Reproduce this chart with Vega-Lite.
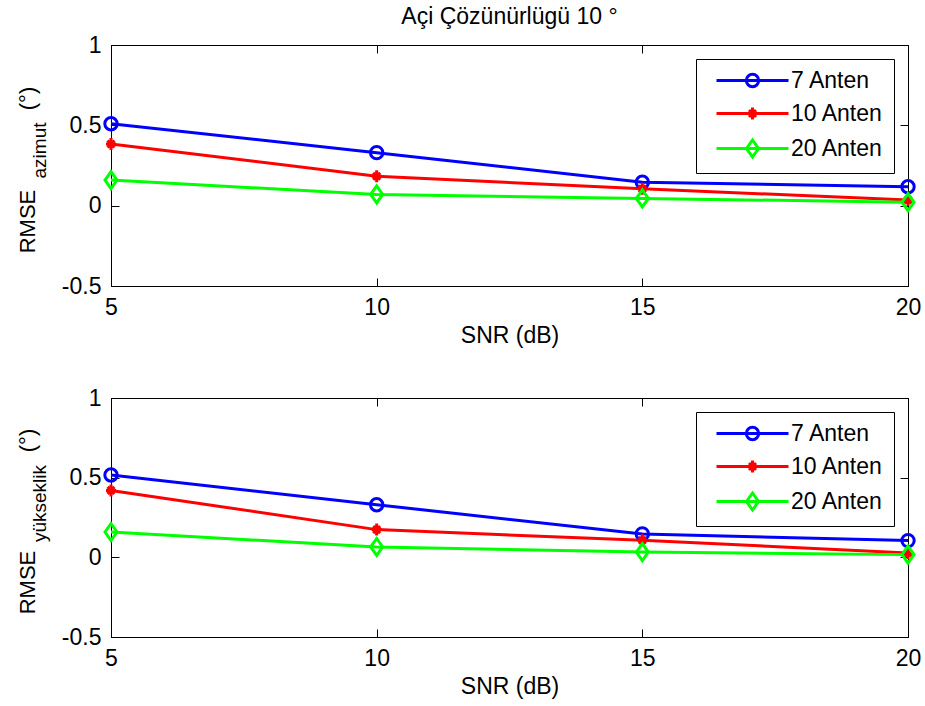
{
  "$schema": "https://vega.github.io/schema/vega-lite/v6.json",
  "background": "white",
  "padding": {"left": 15, "top": 5, "right": 10, "bottom": 5},
  "title": {"text": "Açi Çözünürlügü 10 °", "fontSize": 23, "font": "Liberation Sans", "fontWeight": "normal", "color": "black", "anchor": "middle", "frame": "group", "offset": 5},
  "datasets": {
    "az": [
      {"anten": "7 Anten", "snr": 5, "rmse": 0.51},
      {"anten": "7 Anten", "snr": 10, "rmse": 0.33},
      {"anten": "7 Anten", "snr": 15, "rmse": 0.146},
      {"anten": "7 Anten", "snr": 20, "rmse": 0.118},
      {"anten": "10 Anten", "snr": 5, "rmse": 0.384},
      {"anten": "10 Anten", "snr": 10, "rmse": 0.183},
      {"anten": "10 Anten", "snr": 15, "rmse": 0.105},
      {"anten": "10 Anten", "snr": 20, "rmse": 0.035},
      {"anten": "20 Anten", "snr": 5, "rmse": 0.159},
      {"anten": "20 Anten", "snr": 10, "rmse": 0.07},
      {"anten": "20 Anten", "snr": 15, "rmse": 0.045},
      {"anten": "20 Anten", "snr": 20, "rmse": 0.022}
    ],
    "yk": [
      {"anten": "7 Anten", "snr": 5, "rmse": 0.517},
      {"anten": "7 Anten", "snr": 10, "rmse": 0.33},
      {"anten": "7 Anten", "snr": 15, "rmse": 0.147},
      {"anten": "7 Anten", "snr": 20, "rmse": 0.105},
      {"anten": "10 Anten", "snr": 5, "rmse": 0.42},
      {"anten": "10 Anten", "snr": 10, "rmse": 0.174},
      {"anten": "10 Anten", "snr": 15, "rmse": 0.107},
      {"anten": "10 Anten", "snr": 20, "rmse": 0.027},
      {"anten": "20 Anten", "snr": 5, "rmse": 0.159},
      {"anten": "20 Anten", "snr": 10, "rmse": 0.065},
      {"anten": "20 Anten", "snr": 15, "rmse": 0.033},
      {"anten": "20 Anten", "snr": 20, "rmse": 0.017}
    ]
  },
  "spacing": 38,
  "resolve": {"scale": {"color": "independent", "shape": "independent"}, "legend": {"color": "independent", "shape": "independent"}},
  "vconcat": [
    {
      "width": 797,
      "height": 241,
      "data": {"name": "az"},
      "layer": [
        {
          "mark": {"type": "line", "strokeWidth": 3},
          "encoding": {
            "x": {"field": "snr", "type": "quantitative", "scale": {"domain": [5, 20], "nice": false, "zero": false}, "axis": {"orient": "bottom", "values": [5, 10, 15, 20], "title": "SNR (dB)", "labelPadding": 18, "titlePadding": 5}},
            "y": {"field": "rmse", "type": "quantitative", "scale": {"domain": [-0.5, 1], "nice": false, "zero": false}, "axis": {"orient": "left", "values": [-0.5, 0, 0.5, 1], "labelExpr": "toString(datum.value)", "title": "RMSE", "titleFontSize": 22, "labelPadding": 18, "titleX": -77, "titleY": 176, "titleAngle": 270, "titleAlign": "center", "titleBaseline": "alphabetic"}},
            "color": {"field": "anten", "type": "nominal", "scale": {"domain": ["7 Anten", "10 Anten", "20 Anten"], "range": ["#0000ff", "#ff0000", "#00ff00"]}, "legend": null}
          }
        },
        {
          "mark": {"type": "point", "filled": false, "strokeWidth": 3, "size": 100, "opacity": 1},
          "encoding": {
            "x": {"field": "snr", "type": "quantitative", "scale": {"domain": [5, 20], "nice": false, "zero": false}, "axis": null},
            "y": {"field": "rmse", "type": "quantitative", "scale": {"domain": [-0.5, 1], "nice": false, "zero": false}, "axis": null},
            "color": {"field": "anten", "type": "nominal", "scale": {"domain": ["7 Anten", "10 Anten", "20 Anten"], "range": ["#0000ff", "#ff0000", "#00ff00"]}, "legend": null},
            "shape": {"field": "anten", "type": "nominal", "scale": {"domain": ["7 Anten", "10 Anten", "20 Anten"], "range": ["M1.24,0A1.24,1.24 0 1,1 -1.24,0A1.24,1.24 0 1,1 1.24,0", "M0,-1.2V1.2M-1,0H1M-0.7,-0.7L0.7,0.7M-0.7,0.7L0.7,-0.7", "M-1.2,0L0,-1.7L1.2,0L0,1.7Z"]}, "legend": null}
          }
        },
        {
          "mark": {"type": "point", "filled": false, "strokeWidth": 3, "size": 100, "opacity": 0},
          "encoding": {
            "x": {"field": "snr", "type": "quantitative", "scale": {"domain": [5, 20], "nice": false, "zero": false}, "axis": {"orient": "top", "values": [5, 10, 15, 20], "labels": false, "domain": false, "title": "azimut", "titleFontSize": 19, "titleX": -66, "titleY": 105, "titleAngle": 270, "titleAlign": "center", "titleBaseline": "alphabetic"}},
            "y": {"field": "rmse", "type": "quantitative", "scale": {"domain": [-0.5, 1], "nice": false, "zero": false}, "axis": {"orient": "right", "values": [-0.5, 0, 0.5, 1], "labels": false, "domain": false, "title": "(°)", "titleFontSize": 22, "titleX": -874, "titleY": 53, "titleAngle": 270, "titleAlign": "center", "titleBaseline": "alphabetic"}},
            "color": {"field": "anten", "type": "nominal", "scale": {"domain": ["7 Anten", "10 Anten", "20 Anten"], "range": ["#0000ff", "#ff0000", "#00ff00"]},
              "legend": {"title": null, "orient": "none", "legendX": 585, "legendY": 14, "padding": 10, "strokeColor": "black", "fillColor": "white", "symbolSize": 100, "symbolOffset": 4, "symbolStrokeWidth": 3, "symbolOpacity": 1, "labelOffset": 58, "rowPadding": 8, "encode": {"symbols": {"update": {"opacity": {"value": 1}, "fill": {"value": "transparent"}}}}}},
            "shape": {"field": "anten", "type": "nominal", "scale": {"domain": ["7 Anten", "10 Anten", "20 Anten"], "range": ["M-1,0H13.4M7.44,0A1.24,1.24 0 1,1 4.96,0A1.24,1.24 0 1,1 7.44,0", "M-1,0H13.4M6.2,-1.2V1.2M5.2,0H7.2M5.5,-0.7L6.9,0.7M5.5,0.7L6.9,-0.7", "M-1,0H13.4M5,0L6.2,-1.7L7.4,0L6.2,1.7Z"]},
              "legend": {"title": null, "orient": "none", "legendX": 585, "legendY": 14, "padding": 10, "strokeColor": "black", "fillColor": "white", "symbolSize": 100, "symbolOffset": 4, "symbolStrokeWidth": 3, "symbolOpacity": 1, "labelOffset": 58, "rowPadding": 8, "encode": {"symbols": {"update": {"opacity": {"value": 1}, "fill": {"value": "transparent"}}}}}}
          }
        }
      ],
      "resolve": {"scale": {"color": "independent", "shape": "independent"}, "axis": {"x": "independent", "y": "independent"}}
    },
    {
      "width": 797,
      "height": 239,
      "data": {"name": "yk"},
      "layer": [
        {
          "mark": {"type": "line", "strokeWidth": 3},
          "encoding": {
            "x": {"field": "snr", "type": "quantitative", "scale": {"domain": [5, 20], "nice": false, "zero": false}, "axis": {"orient": "bottom", "values": [5, 10, 15, 20], "title": "SNR (dB)", "labelPadding": 18, "titlePadding": 5}},
            "y": {"field": "rmse", "type": "quantitative", "scale": {"domain": [-0.5, 1], "nice": false, "zero": false}, "axis": {"orient": "left", "values": [-0.5, 0, 0.5, 1], "labelExpr": "toString(datum.value)", "title": "RMSE", "titleFontSize": 22, "labelPadding": 18, "titleX": -77, "titleY": 184, "titleAngle": 270, "titleAlign": "center", "titleBaseline": "alphabetic"}},
            "color": {"field": "anten", "type": "nominal", "scale": {"domain": ["7 Anten", "10 Anten", "20 Anten"], "range": ["#0000ff", "#ff0000", "#00ff00"]}, "legend": null}
          }
        },
        {
          "mark": {"type": "point", "filled": false, "strokeWidth": 3, "size": 100, "opacity": 1},
          "encoding": {
            "x": {"field": "snr", "type": "quantitative", "scale": {"domain": [5, 20], "nice": false, "zero": false}, "axis": null},
            "y": {"field": "rmse", "type": "quantitative", "scale": {"domain": [-0.5, 1], "nice": false, "zero": false}, "axis": null},
            "color": {"field": "anten", "type": "nominal", "scale": {"domain": ["7 Anten", "10 Anten", "20 Anten"], "range": ["#0000ff", "#ff0000", "#00ff00"]}, "legend": null},
            "shape": {"field": "anten", "type": "nominal", "scale": {"domain": ["7 Anten", "10 Anten", "20 Anten"], "range": ["M1.24,0A1.24,1.24 0 1,1 -1.24,0A1.24,1.24 0 1,1 1.24,0", "M0,-1.2V1.2M-1,0H1M-0.7,-0.7L0.7,0.7M-0.7,0.7L0.7,-0.7", "M-1.2,0L0,-1.7L1.2,0L0,1.7Z"]}, "legend": null}
          }
        },
        {
          "mark": {"type": "point", "filled": false, "strokeWidth": 3, "size": 100, "opacity": 0},
          "encoding": {
            "x": {"field": "snr", "type": "quantitative", "scale": {"domain": [5, 20], "nice": false, "zero": false}, "axis": {"orient": "top", "values": [5, 10, 15, 20], "labels": false, "domain": false, "title": "yükseklik", "titleFontSize": 19, "titleX": -66, "titleY": 105, "titleAngle": 270, "titleAlign": "center", "titleBaseline": "alphabetic"}},
            "y": {"field": "rmse", "type": "quantitative", "scale": {"domain": [-0.5, 1], "nice": false, "zero": false}, "axis": {"orient": "right", "values": [-0.5, 0, 0.5, 1], "labels": false, "domain": false, "title": "(°)", "titleFontSize": 22, "titleX": -874, "titleY": 42, "titleAngle": 270, "titleAlign": "center", "titleBaseline": "alphabetic"}},
            "color": {"field": "anten", "type": "nominal", "scale": {"domain": ["7 Anten", "10 Anten", "20 Anten"], "range": ["#0000ff", "#ff0000", "#00ff00"]},
              "legend": {"title": null, "orient": "none", "legendX": 585, "legendY": 14, "padding": 10, "strokeColor": "black", "fillColor": "white", "symbolSize": 100, "symbolOffset": 4, "symbolStrokeWidth": 3, "symbolOpacity": 1, "labelOffset": 58, "rowPadding": 8, "encode": {"symbols": {"update": {"opacity": {"value": 1}, "fill": {"value": "transparent"}}}}}},
            "shape": {"field": "anten", "type": "nominal", "scale": {"domain": ["7 Anten", "10 Anten", "20 Anten"], "range": ["M-1,0H13.4M7.44,0A1.24,1.24 0 1,1 4.96,0A1.24,1.24 0 1,1 7.44,0", "M-1,0H13.4M6.2,-1.2V1.2M5.2,0H7.2M5.5,-0.7L6.9,0.7M5.5,0.7L6.9,-0.7", "M-1,0H13.4M5,0L6.2,-1.7L7.4,0L6.2,1.7Z"]},
              "legend": {"title": null, "orient": "none", "legendX": 585, "legendY": 14, "padding": 10, "strokeColor": "black", "fillColor": "white", "symbolSize": 100, "symbolOffset": 4, "symbolStrokeWidth": 3, "symbolOpacity": 1, "labelOffset": 58, "rowPadding": 8, "encode": {"symbols": {"update": {"opacity": {"value": 1}, "fill": {"value": "transparent"}}}}}}
          }
        }
      ],
      "resolve": {"scale": {"color": "independent", "shape": "independent"}, "axis": {"x": "independent", "y": "independent"}}
    }
  ],
  "config": {
    "view": {"stroke": "black", "strokeWidth": 1},
    "axis": {"grid": false, "domainColor": "black", "tickColor": "black", "labelColor": "black", "titleColor": "black", "labelFont": "Liberation Sans", "titleFont": "Liberation Sans", "labelFontSize": 23, "titleFontSize": 23, "titleFontWeight": "normal", "tickSize": -8, "domainWidth": 1, "tickWidth": 1, "labelFlush": false, "labelOverlap": false},
    "legend": {"labelFont": "Liberation Sans", "labelFontSize": 23, "labelColor": "black"}
  }
}
